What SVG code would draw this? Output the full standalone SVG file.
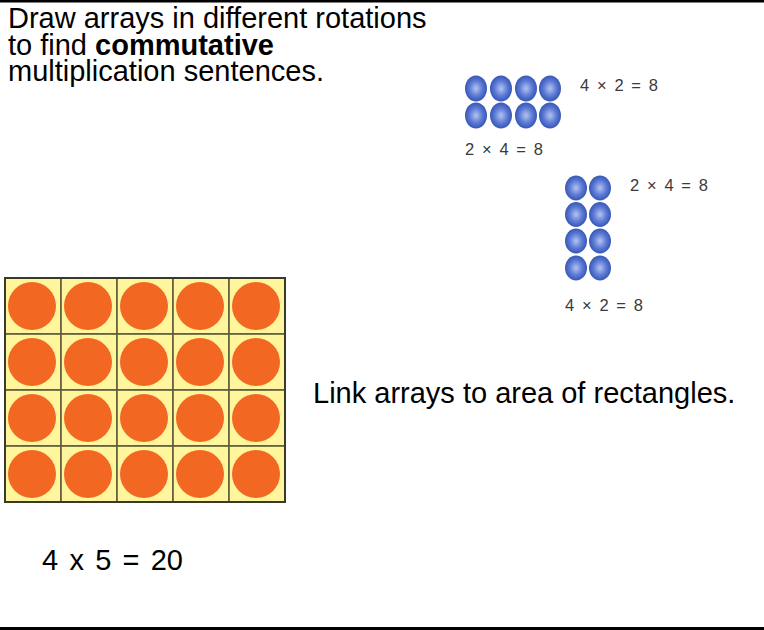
<svg xmlns="http://www.w3.org/2000/svg" width="764" height="630" viewBox="0 0 764 630">
<defs>
<style>
.t{font-family:"Liberation Sans",Arial,sans-serif;font-size:29px;fill:#000}
.s{font-family:"Liberation Sans",Arial,sans-serif;font-size:16.5px;fill:#3a3a3a;letter-spacing:1.6px}
.cell{fill:#FFF59D;stroke:#5e5c3c;stroke-width:1.6}
.o{fill:#F26722}
.b{fill:url(#bg)}
</style>
<radialGradient id="bg" cx="0.5" cy="0.5" r="0.55">
<stop offset="0" stop-color="#b4c4f0"/>
<stop offset="0.55" stop-color="#5a78d4"/>
<stop offset="1" stop-color="#2f4fae"/>
</radialGradient>
</defs>
<rect x="0" y="0" width="764" height="630" fill="#fff"/>
<rect x="0" y="0" width="764" height="2.5" fill="#000"/>
<rect x="0" y="627" width="764" height="3" fill="#000"/>
<g id="intro-text">
<text class="t" x="8" y="28">Draw arrays in different rotations</text>
<text class="t" x="8" y="54.5">to find <tspan font-weight="bold">commutative</tspan></text>
<text class="t" x="8" y="81">multiplication sentences.</text>
</g>
<g id="array-4x2">
<ellipse class="b" cx="476" cy="88.5" rx="11" ry="13"/>
<ellipse class="b" cx="501" cy="88.5" rx="11" ry="13"/>
<ellipse class="b" cx="526" cy="88.5" rx="11" ry="13"/>
<ellipse class="b" cx="550" cy="88.5" rx="11" ry="13"/>
<ellipse class="b" cx="476" cy="115.5" rx="11" ry="13"/>
<ellipse class="b" cx="501" cy="115.5" rx="11" ry="13"/>
<ellipse class="b" cx="526" cy="115.5" rx="11" ry="13"/>
<ellipse class="b" cx="550" cy="115.5" rx="11" ry="13"/>
<text class="s" x="580" y="91">4 × 2 = 8</text>
<text class="s" x="465" y="155">2 × 4 = 8</text>
</g>
<g id="array-2x4">
<ellipse class="b" cx="576" cy="188" rx="11" ry="12.5"/>
<ellipse class="b" cx="600" cy="188" rx="11" ry="12.5"/>
<ellipse class="b" cx="576" cy="214.5" rx="11" ry="12.5"/>
<ellipse class="b" cx="600" cy="214.5" rx="11" ry="12.5"/>
<ellipse class="b" cx="576" cy="241" rx="11" ry="12.5"/>
<ellipse class="b" cx="600" cy="241" rx="11" ry="12.5"/>
<ellipse class="b" cx="576" cy="268" rx="11" ry="12.5"/>
<ellipse class="b" cx="600" cy="268" rx="11" ry="12.5"/>
<text class="s" x="630" y="191">2 × 4 = 8</text>
<text class="s" x="565" y="311">4 × 2 = 8</text>
</g>
<g id="grid-4x5">
<rect class="cell" x="5" y="278" width="56" height="56"/>
<rect class="cell" x="61" y="278" width="56" height="56"/>
<rect class="cell" x="117" y="278" width="56" height="56"/>
<rect class="cell" x="173" y="278" width="56" height="56"/>
<rect class="cell" x="229" y="278" width="56" height="56"/>
<rect class="cell" x="5" y="334" width="56" height="56"/>
<rect class="cell" x="61" y="334" width="56" height="56"/>
<rect class="cell" x="117" y="334" width="56" height="56"/>
<rect class="cell" x="173" y="334" width="56" height="56"/>
<rect class="cell" x="229" y="334" width="56" height="56"/>
<rect class="cell" x="5" y="390" width="56" height="56"/>
<rect class="cell" x="61" y="390" width="56" height="56"/>
<rect class="cell" x="117" y="390" width="56" height="56"/>
<rect class="cell" x="173" y="390" width="56" height="56"/>
<rect class="cell" x="229" y="390" width="56" height="56"/>
<rect class="cell" x="5" y="446" width="56" height="56"/>
<rect class="cell" x="61" y="446" width="56" height="56"/>
<rect class="cell" x="117" y="446" width="56" height="56"/>
<rect class="cell" x="173" y="446" width="56" height="56"/>
<rect class="cell" x="229" y="446" width="56" height="56"/>
<circle class="o" cx="32" cy="306" r="24"/>
<circle class="o" cx="88" cy="306" r="24"/>
<circle class="o" cx="144" cy="306" r="24"/>
<circle class="o" cx="200" cy="306" r="24"/>
<circle class="o" cx="256" cy="306" r="24"/>
<circle class="o" cx="32" cy="362" r="24"/>
<circle class="o" cx="88" cy="362" r="24"/>
<circle class="o" cx="144" cy="362" r="24"/>
<circle class="o" cx="200" cy="362" r="24"/>
<circle class="o" cx="256" cy="362" r="24"/>
<circle class="o" cx="32" cy="418" r="24"/>
<circle class="o" cx="88" cy="418" r="24"/>
<circle class="o" cx="144" cy="418" r="24"/>
<circle class="o" cx="200" cy="418" r="24"/>
<circle class="o" cx="256" cy="418" r="24"/>
<circle class="o" cx="32" cy="474" r="24"/>
<circle class="o" cx="88" cy="474" r="24"/>
<circle class="o" cx="144" cy="474" r="24"/>
<circle class="o" cx="200" cy="474" r="24"/>
<circle class="o" cx="256" cy="474" r="24"/>
<rect x="5" y="278" width="280" height="224" fill="none" stroke="#3a3a28" stroke-width="2"/>
</g>
<g id="area-text">
<text class="t" x="313" y="403" font-size="29.5">Link arrays to area of rectangles.</text>
</g>
<g id="equation">
<text class="t" x="42" y="570" font-size="30" word-spacing="3.2">4 x 5 = 20</text>
</g>
<g id="connectors"/>
</svg>
